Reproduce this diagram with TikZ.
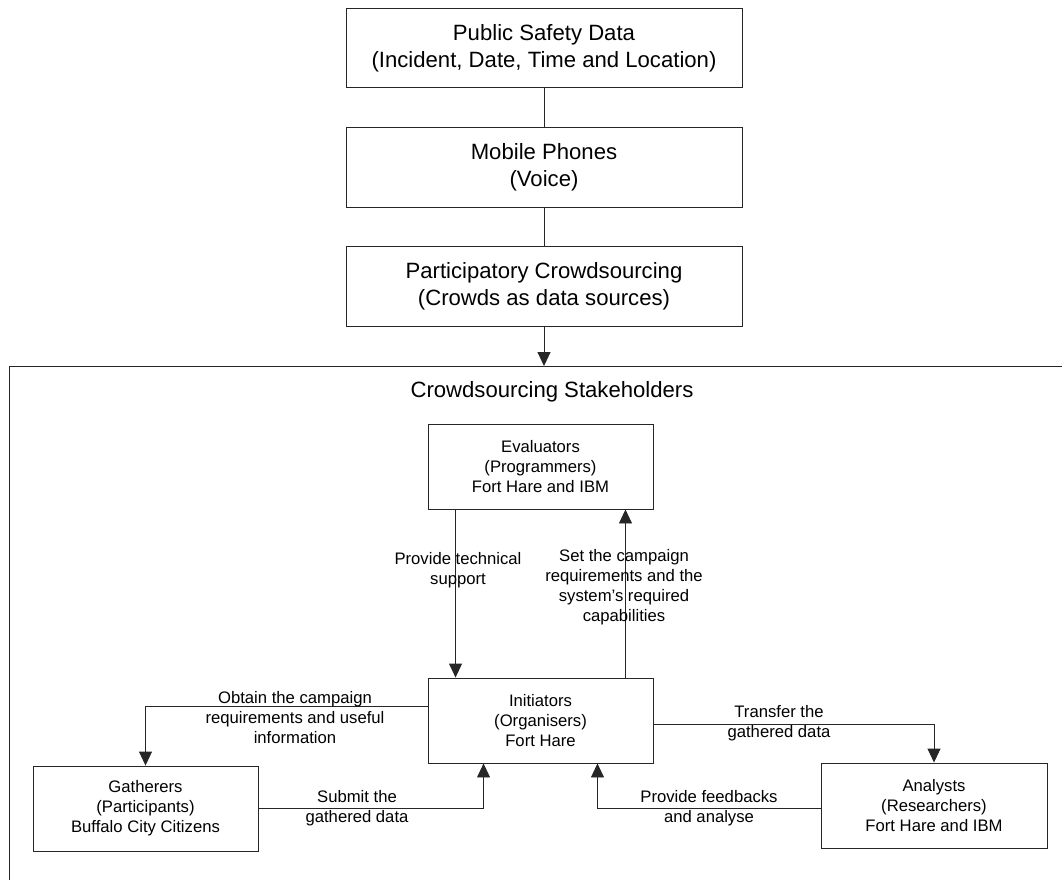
\documentclass[tikz,border=0pt]{standalone}
\usepackage{fontspec}
\setmainfont{Liberation Sans}
\usetikzlibrary{arrows.meta,calc}
\begin{document}
\begin{tikzpicture}[x=0.75pt,y=-0.75pt,
  ln/.style={draw=black!85,line width=0.7pt},
  arr/.style={ln,-{Triangle[length=10.5pt,width=9.75pt]}},
  bigbox/.style={ln,rectangle,inner sep=0pt,minimum width=297pt,minimum height=59.5pt,align=center,font=\fontsize{16.6}{20.25}\selectfont},
  smallbox/.style={ln,rectangle,inner sep=0pt,minimum width=168.75pt,minimum height=63.75pt,align=center,font=\fontsize{12.5}{15}\selectfont},
  lbl/.style={inner sep=0pt,align=center,font=\fontsize{12.5}{15}\selectfont}]
\useasboundingbox (0,0) rectangle (1062,879);

\node[bigbox] (pub) at (544,48) {Public Safety Data\\(Incident, Date, Time and Location)};
\node[bigbox] (mob) at (544,167.5) {Mobile Phones\\(Voice)};
\node[bigbox] (par) at (544,286.5) {Participatory Crowdsourcing\\(Crowds as data sources)};

\draw[ln] (pub) -- (mob);
\draw[ln] (mob) -- (par);

% stakeholders frame (cropped)
\draw[ln] (1064,366) -- (9.5,366) -- (9.5,881);
\coordinate (ftop) at (544,366);
\draw[arr] (par.south) -- (ftop);

\node[inner sep=0pt,font=\fontsize{16.6}{20.25}\selectfont] (title) at (552,392) {Crowdsourcing Stakeholders};

\node[smallbox] (eva) at (540.5,466.5) {Evaluators\\(Programmers)\\Fort Hare and IBM};
\node[smallbox] (ini) at (540.5,720.5) {Initiators\\(Organisers)\\Fort Hare};
\node[smallbox] (gat) at (145.5,808.5) {Gatherers\\(Participants)\\Buffalo City Citizens};
\node[smallbox,minimum width=169.5pt] (ana) at (934,805.5) {Analysts\\(Researchers)\\Fort Hare and IBM};

% connectors
\draw[arr] ($(eva.south west)+(28,0)$) -- ($(ini.north west)+(28,0)$);
\draw[arr] ($(ini.north east)+(-28,0)$) -- ($(eva.south east)+(-28,0)$);
\draw[arr] ($(ini.west)+(0,-14)$) -| (gat.north);
\draw[arr] ($(ini.east)+(0,3.5)$) -| (ana.north);
\draw[arr] (gat.east) -| ($(ini.south west)+(56,0)$);
\draw[arr] ($(ana.west)+(0,2.5)$) -| ($(ini.south east)+(-56,0)$);

% labels
\node[lbl] (l1) at (458,570) {Provide technical\\support};
\node[lbl] (l2) at (624,587) {Set the campaign\\requirements and the\\system’s required\\capabilities};
\node[lbl] (l3) at (295,718) {Obtain the campaign\\requirements and useful\\information};
\node[lbl] (l4) at (779,723) {Transfer the\\gathered data};
\node[lbl] (l5) at (357,808) {Submit the\\gathered data};
\node[lbl] (l6) at (709,808) {Provide feedbacks\\and analyse};
\end{tikzpicture}
\end{document}
